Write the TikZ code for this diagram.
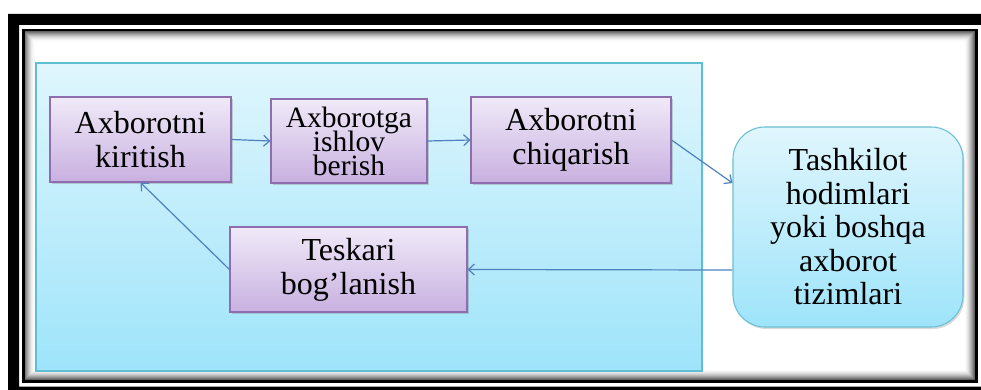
\documentclass[tikz,border=0pt]{standalone}
\usepackage{fontspec}
\setmainfont{Liberation Serif}
\usetikzlibrary{arrows.meta,shadows}

\definecolor{flowline}{HTML}{4F81BD}
\definecolor{stepedge}{HTML}{8F6EAF}
\definecolor{steptop}{HTML}{F0EAF8}
\definecolor{stepbottom}{HTML}{C8B0E0}
\definecolor{areaedge}{HTML}{5FBED2}
\definecolor{areatop}{HTML}{E0F6FD}
\definecolor{areabottom}{HTML}{9EE4FA}
\definecolor{sideedge}{HTML}{6CC0D6}

\tikzset{
  stepbox/.style={draw=stepedge, line width=1.1pt, top color=steptop, bottom color=stepbottom,
    inner sep=0pt, align=center, text=black,
    drop shadow={shadow xshift=1.5pt, shadow yshift=-1.8pt, opacity=0.35},
    font=\fontsize{32}{34}\selectfont},
  tightbox/.style={stepbox, font=\fontsize{29.5}{24}\selectfont},
  sidebox/.style={draw=sideedge, line width=1.1pt, top color=areatop, bottom color=areabottom,
    rounded corners=32pt, inner sep=0pt, align=center, text=black,
    drop shadow={shadow xshift=1.5pt, shadow yshift=-2pt, opacity=0.3},
    font=\fontsize{32}{33.5}\selectfont},
  flow/.style={draw=flowline, line width=1.2pt, -{Straight Barb[length=6pt,width=11pt,line width=1.2pt]}},
}

\begin{document}
\setlength{\lineskiplimit}{-30pt}
\begin{tikzpicture}[x=1pt,y=-1pt]
\useasboundingbox (0,0) rectangle (981,390);

% heavy outer border
\fill[black,even odd rule] (8,14) rectangle (1000,400) (19,25) rectangle (981,386.5);

% thin inner border with its inset shading
\foreach \i/\g in {0.5/62,1.5/52,2.5/43,3.5/35,4.5/27,5.5/20,6.5/14,7.5/9,8.5/5,9.5/2}{
  \draw[black!\g, line width=1.05pt] (24.5+\i,31.5+\i) rectangle (975-\i,380-\i);
}
\draw[black, line width=2.5pt] (23.25,30.25) rectangle (976.25,381.25);

% system area
\shade[top color=areatop, bottom color=areabottom, draw=areaedge, line width=1.1pt]
  (36,63) rectangle (702,371);

% process steps
\node[stepbox, minimum width=181pt, minimum height=85pt] (input) at (140.5,139.5) {Axborotni\\kiritish};
\node[tightbox, minimum width=156pt, minimum height=84pt] (proc) at (349,141) {Axborotga\\ishlov\\berish};
\node[stepbox, minimum width=200pt, minimum height=86pt] (output) at (571,140) {Axborotni\\chiqarish};
\node[stepbox, minimum width=237pt, minimum height=85pt] (fb) at (348.5,269.5) {Teskari\\bog’lanish};

% external recipients
\node[sidebox, minimum width=230pt, minimum height=200pt] (users) at (848,227)
  {Tashkilot\\hodimlari\\yoki boshqa\\axborot\\tizimlari};

% flow of information
\draw[flow] (input.east) -- (proc.west);
\draw[flow] (proc.east) -- (output.west);
\draw[flow] (output.east) -- ([yshift=44pt]users.west);
\draw[flow] ([yshift=-43pt]users.west) -- (fb.east);
\draw[flow] (fb.west) -- (input.south);
\end{tikzpicture}
\end{document}
